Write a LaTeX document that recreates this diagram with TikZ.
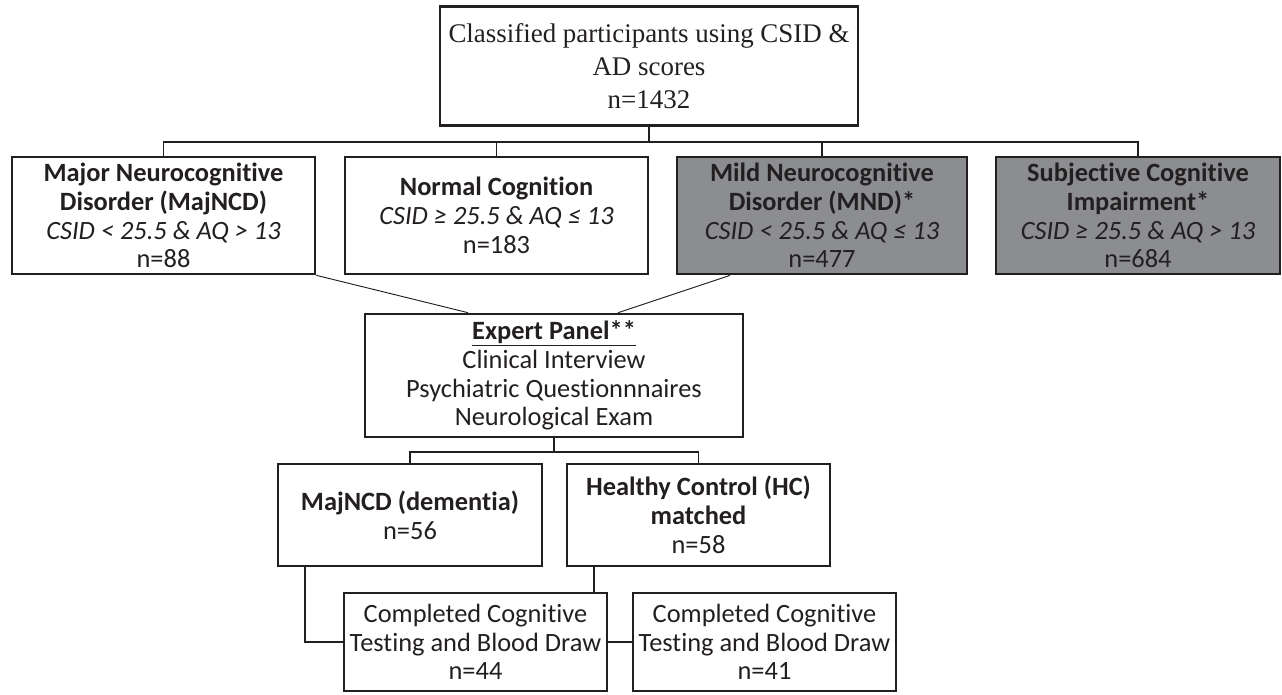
\documentclass[tikz,border=0pt]{standalone}
\usepackage{fontspec}
\setmainfont[RawFeature={-liga;-calt;-clig}]{Carlito}
\newfontfamily\serifnm{Liberation Serif}
\definecolor{ink}{RGB}{35,31,32}
\definecolor{boxgray}{RGB}{140,141,145}
\tikzset{
  box/.style={draw=ink, line width=2pt, align=center, inner sep=0pt, text=ink,
    font=\fontsize{19.8pt}{21.6pt}\selectfont},
  grbox/.style={box, fill=boxgray},
  conn/.style={draw=ink, line width=1pt},
  diag/.style={draw=ink, line width=0.7pt}
}
\begin{document}
\begin{tikzpicture}[x=0.75pt,y=-0.75pt]
\useasboundingbox (0,0) rectangle (1282,694);
% top
\node[box, minimum width=313.5pt, minimum height=89.25pt,
  font=\serifnm\fontsize{20.2pt}{24.6pt}\selectfont] (top) at (649,66)
  {Classified participants using CSID \&\\AD scores\\n=1432};
% row of four
\node[box, minimum width=227.25pt, minimum height=87.75pt] (maj) at (163.5,215.5)
  {\textbf{Major Neurocognitive}\\\textbf{Disorder (MajNCD)}\\\textit{CSID < 25.5 \& AQ > 13}\\n=88};
\node[box, minimum width=227.25pt, minimum height=87.75pt] (norm) at (496.5,215.5)
  {\textbf{Normal Cognition}\\\textit{CSID ≥ 25.5 \& AQ ≤ 13}\\n=183};
\node[grbox, minimum width=217.5pt, minimum height=87.75pt] (mnd) at (822,215.5)
  {\textbf{Mild Neurocognitive}\\\textbf{Disorder (MND)*}\\\textit{CSID < 25.5 \& AQ ≤ 13}\\n=477};
\node[grbox, minimum width=213pt, minimum height=87.75pt] (sci) at (1138,215.5)
  {\textbf{Subjective Cognitive}\\\textbf{Impairment*}\\\textit{CSID ≥ 25.5 \& AQ > 13}\\n=684};
% expert panel
\node[box, minimum width=283.5pt, minimum height=92.25pt] (expert) at (554,375.5)
  {\textbf{\underline{Expert Panel**}}\\Clinical Interview\\Psychiatric Questionnnaires\\Neurological Exam};
% second level
\node[box, minimum width=198pt, minimum height=76.5pt] (dem) at (410,515)
  {\textbf{MajNCD (dementia)}\\n=56};
\node[box, minimum width=197.25pt, minimum height=76.5pt] (hc) at (698.5,515)
  {\textbf{Healthy Control (HC)}\\\textbf{matched}\\n=58};
% bottom
\node[box, minimum width=197.25pt, minimum height=73.5pt] (c1) at (475.5,642)
  {Completed Cognitive\\Testing and Blood Draw\\n=44};
\node[box, minimum width=197.25pt, minimum height=73.5pt] (c2) at (764.5,642)
  {Completed Cognitive\\Testing and Blood Draw\\n=41};
% connectors
\coordinate (bus1) at (649,142);
\draw[conn] (top.south) -- (bus1);
\draw[conn] (maj.north) -- (maj.north |- bus1) -- (sci.north |- bus1) -- (sci.north);
\draw[conn] (norm.north) -- (norm.north |- bus1);
\draw[conn] (mnd.north) -- (mnd.north |- bus1);
\draw[diag] (maj.south east) -- ([xshift=-64.5pt]expert.north);
\draw[diag] ([xshift=-69pt]mnd.south) -- ([xshift=48pt]expert.north);
\coordinate (bus2) at (554,452);
\draw[conn] (expert.south) -- (bus2);
\draw[conn] (dem.north) -- (dem.north |- bus2) -- (hc.north |- bus2) -- (hc.north);
\draw[conn] ([xshift=-78.75pt]dem.south) |- (c1.west);
\draw[conn] ([xshift=-78.4pt]hc.south) -- ([xshift=-78.4pt]hc.south |- c1.north);
\draw[conn] (c1.east) -- (c2.west);
\end{tikzpicture}
\end{document}
